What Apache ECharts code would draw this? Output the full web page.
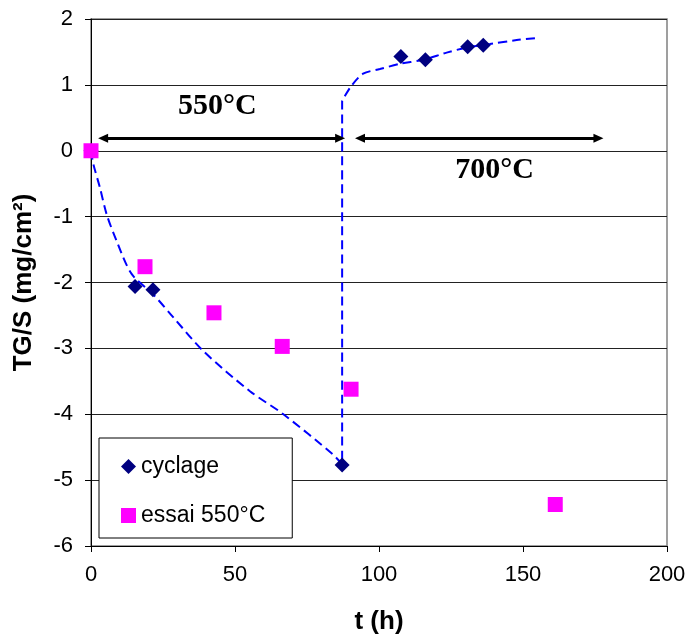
<!DOCTYPE html>
<html>
<head>
<meta charset="utf-8">
<script src="https://cdn.jsdelivr.net/npm/echarts@6/dist/echarts.min.js"></script>
<style>html,body{margin:0;padding:0;background:#fff;}#c{width:690px;height:637px;}</style>
</head>
<body>
<div id="c"></div>
<script>
// cyclage (diamonds)
var cyclageT = [0, 15.3, 21.5, 87.2, 107.6, 116.1, 130.8, 136.2];
var cyclageV = [0, -2.06, -2.11, -4.77, 1.43, 1.38, 1.58, 1.60];
// essai 550°C (squares)
var essaiT = [0, 18.75, 42.7, 66.4, 90.3, 161.2];
var essaiV = [0, -1.76, -2.46, -2.97, -3.62, -5.37];
// dashed trend line
var fitT = [0, 0.8, 3.1, 5.4, 8.9, 14.1, 21.6, 28.6, 39, 55.2, 66.8, 84, 87.2, 87.2, 87.6, 90.5, 94.5, 100.3, 107.3, 115.3, 123.5, 130.8, 138.5, 147.8, 154.8];
var fitV = [0, -0.2, -0.56, -0.96, -1.37, -1.87, -2.18, -2.53, -3.04, -3.65, -4.0, -4.61, -4.76, 0.75, 0.79, 0.99, 1.17, 1.24, 1.32, 1.38, 1.49, 1.57, 1.62, 1.68, 1.71];
// annotations
var arrow550 = [[4.2, 0.19], [86.5, 0.19]];
var arrow700 = [[93.4, 0.19], [176.2, 0.19]];
var label550 = {text: '550°C', t: 43.9, v: 0.68};
var label700 = {text: '700°C', t: 140.1, v: -0.29};

function zip(a, b) { return a.map(function (x, i) { return [x, b[i]]; }); }

var chart = echarts.init(document.getElementById('c'), null, {renderer: 'canvas'});
var sans = 'Liberation Sans, Arial, sans-serif';
var serif = 'Liberation Serif, Times New Roman, serif';

function arrowLine(pts) {
  return [{coord: pts[0]}, {coord: pts[1]}];
}
function textPoint(l) {
  return {
    coord: [l.t, l.v], symbolSize: 0,
    label: {show: true, formatter: l.text, position: 'inside', color: '#000',
      fontFamily: serif, fontWeight: 'bold', fontSize: 30, align: 'center', verticalAlign: 'middle'}
  };
}

chart.setOption({
  animation: false,
  backgroundColor: '#fff',
  grid: {left: 91, right: 23, top: 19, bottom: 91, show: true, borderColor: '#808080', borderWidth: 1.5,
    containLabel: false, outerBoundsMode: 'none'},
  xAxis: {
    type: 'value', min: 0, max: 200, interval: 50,
    name: 't (h)', nameLocation: 'middle', nameGap: 63,
    nameTextStyle: {fontFamily: sans, fontWeight: 'bold', fontSize: 26, color: '#000'},
    axisLine: {show: true, onZero: false, lineStyle: {color: '#000', width: 1}},
    axisTick: {show: true, length: 6, inside: false, lineStyle: {color: '#000'}},
    axisLabel: {fontFamily: sans, fontSize: 22, color: '#000', margin: 18},
    splitLine: {show: false}
  },
  yAxis: {
    type: 'value', min: -6, max: 2, interval: 1,
    name: 'TG/S (mg/cm²)', nameLocation: 'middle', nameGap: 54,
    nameTextStyle: {fontFamily: sans, fontWeight: 'bold', fontSize: 26, color: '#000'},
    axisLine: {show: true, onZero: false, lineStyle: {color: '#000', width: 1}},
    axisTick: {show: true, length: 6, inside: false, lineStyle: {color: '#000'}},
    axisLabel: {fontFamily: sans, fontSize: 22, color: '#000', margin: 18},
    splitLine: {show: true, lineStyle: {color: '#222', width: 1}}
  },
  legend: {
    orient: 'vertical', left: 99, top: 438,
    padding: [17, 27, 11, 22], itemGap: 26,
    itemWidth: 15, itemHeight: 15,
    backgroundColor: '#fff', borderColor: '#000', borderWidth: 1, borderRadius: 0,
    textStyle: {fontFamily: sans, fontSize: 23, color: '#000'},
    data: [{name: 'cyclage', icon: 'diamond'}, {name: 'essai 550°C', icon: 'rect'}]
  },
  series: [
    {
      name: 'fit', type: 'line', data: zip(fitT, fitV), showSymbol: false,
      smooth: 0.3,
      lineStyle: {color: '#0000FF', width: 2, type: [9, 5]}, z: 2, silent: true
    },
    {
      name: 'annot', type: 'line', data: [], silent: true, z: 3,
      markLine: {
        silent: true, symbol: ['triangle', 'triangle'], symbolSize: [9, 10],
        label: {show: false},
        lineStyle: {color: '#000', width: 3, type: 'solid'},
        data: [arrowLine(arrow550), arrowLine(arrow700)]
      },
      markPoint: {
        silent: true, symbol: 'circle', symbolSize: 0,
        data: [textPoint(label550), textPoint(label700)]
      }
    },
    {
      name: 'cyclage', type: 'scatter', data: zip(cyclageT, cyclageV),
      symbol: 'diamond', symbolSize: 15, itemStyle: {color: '#000080', opacity: 1}, z: 4
    },
    {
      name: 'essai 550°C', type: 'scatter', data: zip(essaiT, essaiV),
      symbol: 'rect', symbolSize: 15, itemStyle: {color: '#FF00FF', opacity: 1}, z: 5
    }
  ]
});
</script>
</body>
</html>
